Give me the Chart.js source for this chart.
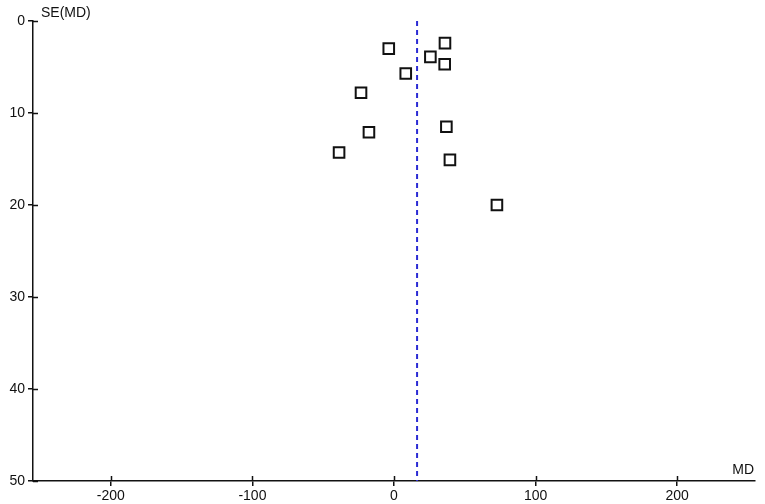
<!DOCTYPE html>
<html>
<head>
<meta charset="utf-8">
<script src="https://cdn.jsdelivr.net/npm/chart.js@4"></script>
<style>
  html, body { margin: 0; padding: 0; background: #fff; }
  #wrap { width: 765px; height: 504px; position: relative; }
</style>
</head>
<body>
<div id="wrap"><canvas id="funnel"></canvas></div>
<script>
// study estimates: mean difference (MD) and its standard error
const md = [-3.7, 36.0, 25.7, 35.8, 8.3, -23.3, 37.0, -17.7, -38.8, 39.5, 72.7];
const se = [3.0, 2.4, 3.9, 4.7, 5.7, 7.8, 11.5, 12.1, 14.3, 15.1, 20.0];

// pooled estimate (vertical dashed line)
const pooledMD = 16.3;
const seRange = [0, 50];

const xTicks = [-200, -100, 0, 100, 200];
const yTicks = [0, 10, 20, 30, 40, 50];
const xLimits = [-255, 255];

const xTitle = 'MD';
const yTitle = 'SE(MD)';

const tickFont = { family: 'Liberation Sans, Arial, sans-serif', size: 14 };

// axis titles + the small inward half of each tick mark
const axisExtras = {
    id: 'axisExtras',
    afterDraw(chart) {
        const { ctx, chartArea, scales } = chart;
        ctx.save();
        ctx.strokeStyle = '#111';
        ctx.lineWidth = 1.5;
        ctx.beginPath();
        xTicks.forEach(v => {
            const px = Math.round(scales.x.getPixelForValue(v)) + 0.5;
            ctx.moveTo(px, chartArea.bottom);
            ctx.lineTo(px, chartArea.bottom - 5);
        });
        yTicks.forEach(v => {
            const py = Math.round(scales.y.getPixelForValue(v)) + 0.5;
            ctx.moveTo(chartArea.left, py);
            ctx.lineTo(chartArea.left + 5, py);
        });
        ctx.stroke();

        ctx.fillStyle = '#111';
        ctx.font = '14px "Liberation Sans", Arial, sans-serif';
        ctx.textBaseline = 'alphabetic';
        ctx.textAlign = 'left';
        ctx.fillText(yTitle, chartArea.left + 8, chartArea.top - 4);
        ctx.textAlign = 'right';
        ctx.fillText(xTitle, chartArea.right - 1, chartArea.bottom - 7);
        ctx.restore();
    }
};

new Chart(document.getElementById('funnel'), {
    type: 'scatter',
    data: {
        datasets: [
            {
                label: 'Pooled MD',
                type: 'line',
                data: seRange.map(v => ({ x: pooledMD, y: v })),
                borderColor: '#2b2bd4',
                borderWidth: 2,
                borderDash: [5, 4],
                pointRadius: 0,
                fill: false,
            },
            {
                label: 'Studies',
                data: md.map((v, i) => ({ x: v, y: se[i] })),
                pointStyle: 'rect',
                pointRadius: 7.5,
                pointHoverRadius: 7.5,
                backgroundColor: '#fff',
                borderColor: '#111',
                borderWidth: 2,
            },
        ],
    },
    options: {
        responsive: true,
        maintainAspectRatio: false,
        animation: false,
        layout: { padding: { left: 0, top: 21, right: 10, bottom: 0 } },
        plugins: {
            legend: { display: false },
            tooltip: { enabled: false },
        },
        scales: {
            x: {
                type: 'linear',
                min: xLimits[0],
                max: xLimits[1],
                afterBuildTicks: scale => { scale.ticks = xTicks.map(v => ({ value: v })); },
                afterFit: scale => { scale.height = 23; },
                grid: { drawOnChartArea: false, tickLength: 5, color: '#111', lineWidth: 1.5 },
                border: { color: '#111', width: 1.5 },
                ticks: { color: '#111', font: tickFont, padding: 2, maxRotation: 0 },
            },
            y: {
                type: 'linear',
                reverse: true,
                min: yTicks[0],
                max: yTicks[yTicks.length - 1],
                afterBuildTicks: scale => { scale.ticks = yTicks.map(v => ({ value: v })); },
                afterFit: scale => { scale.width = 33; },
                grid: { drawOnChartArea: false, tickLength: 5, color: '#111', lineWidth: 1.5 },
                border: { color: '#111', width: 1.5 },
                ticks: { color: '#111', font: tickFont, padding: 3 },
            },
        },
    },
    plugins: [axisExtras],
});
</script>
</body>
</html>
